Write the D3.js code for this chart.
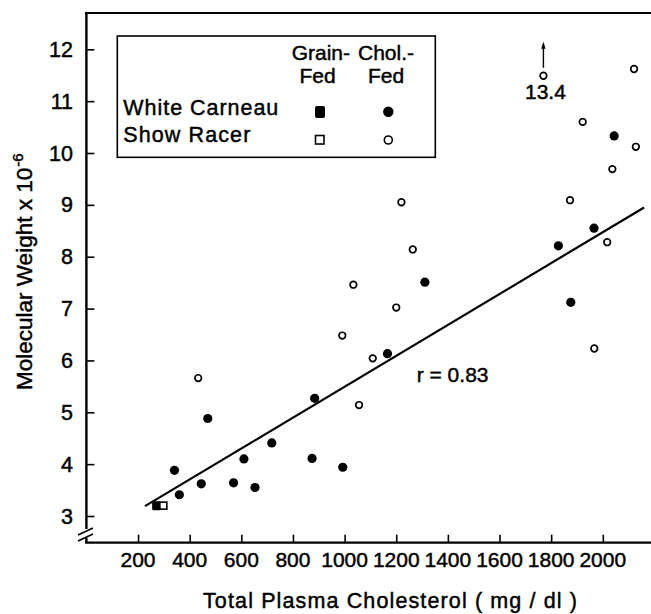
<!DOCTYPE html>
<html>
<head>
<meta charset="utf-8">
<script src="https://cdn.jsdelivr.net/npm/d3@7"></script>
<style>
	body { margin: 0; background: #fff; }
	svg { display: block; }
	text { font-family: "Liberation Sans", Arial, Helvetica, sans-serif; fill: #000; stroke: #000; stroke-width: 0.45px; }
</style>
</head>
<body>
<div id="chart"></div>
<script>

// White Carneau, cholesterol-fed (filled circles)
var wcCholX = [341, 360, 445, 470, 570, 610, 653, 718, 874, 884, 993, 1166, 1311, 1828, 1876, 1966, 2044];
var wcCholY = [3.88, 3.41, 3.62, 4.88, 3.64, 4.10, 3.55, 4.41, 4.11, 5.27, 3.94, 6.13, 7.51, 8.21, 7.12, 8.55, 10.33];

// Show Racer, cholesterol-fed (open circles)
var srCholX = [433, 991, 1034, 1056, 1109, 1200, 1220, 1264, 1770, 1873, 1922, 1967, 2017, 2037, 2121, 2128];
var srCholY = [5.66, 6.48, 7.46, 5.14, 6.04, 7.02, 9.05, 8.14, 11.49, 9.09, 10.60, 6.23, 8.28, 9.69, 11.62, 10.12];

// grain-fed birds (squares)
var wcGrainX = [272];
var wcGrainY = [3.2];
var srGrainX = [298];
var srGrainY = [3.2];

// point that is off the scale, drawn at the top with an arrow
var offScaleX = [1770];
var offScaleY = [11.49];
var offScaleLabel = ["13.4"];

// regression line end points
var fitX = [227, 2160];
var fitY = [3.19, 8.95];
var fitLabel = "r = 0.83";

var xTicks = [200, 400, 600, 800, 1000, 1200, 1400, 1600, 1800, 2000];
var yTicks = [3, 4, 5, 6, 7, 8, 9, 10, 11, 12];

var width = 651, height = 614;

var svg = d3.select("#chart")
	.append("svg")
	.attr("width", width)
	.attr("height", height)

var xScale = d3.scaleLinear().domain([0, 2000]).range([86.4, 602.8]);
var yScale = d3.scaleLinear().domain([3, 12]).range([516, 49.3]);

var axisY = 542.7;   // where the x axis sits
var topY = 13;

// frame: top line, left axis with break, bottom axis
svg.append("line")
	.attr("x1", 85).attr("x2", width)
	.attr("y1", topY).attr("y2", topY)
	.attr("stroke", "#000").attr("stroke-width", 2)

svg.append("line")
	.attr("x1", xScale(0)).attr("x2", xScale(0))
	.attr("y1", topY - 1).attr("y2", 529)
	.attr("stroke", "#000").attr("stroke-width", 2.4)

svg.append("line")
	.attr("x1", xScale(0)).attr("x2", xScale(0))
	.attr("y1", 538).attr("y2", axisY)
	.attr("stroke", "#000").attr("stroke-width", 2.4)

// break marks
svg.selectAll("line.brk")
	.data([0, 6])
	.enter()
	.append("line")
	.attr("class", "brk")
	.attr("x1", 78).attr("x2", 93)
	.attr("y1", d => 535 + d).attr("y2", d => 528 + d)
	.attr("stroke", "#000").attr("stroke-width", 1.6)

// x axis, ticks pointing inward
svg.append("g")
	.attr("transform", "translate(0," + axisY + ")")
	.call(d3.axisTop(xScale).tickValues(xTicks).tickSize(8).tickSizeOuter(0).tickFormat(""))
	.call(g => g.select(".domain").attr("d", "M85,0H" + width).attr("stroke-width", 2.2))
	.call(g => g.selectAll(".tick line").attr("stroke-width", 1.6))

svg.selectAll("text.xlab")
	.data(xTicks)
	.enter()
	.append("text")
	.attr("class", "xlab")
	.attr("x", d => xScale(d))
	.attr("y", axisY + 24)
	.attr("text-anchor", "middle")
	.attr("font-size", 21)
	.text(d => d)

// y axis ticks pointing inward
svg.append("g")
	.attr("transform", "translate(" + xScale(0) + ",0)")
	.call(d3.axisRight(yScale).tickValues(yTicks).tickSize(8).tickSizeOuter(0).tickFormat(""))
	.call(g => g.select(".domain").remove())
	.call(g => g.selectAll(".tick line").attr("stroke-width", 1.6))

svg.selectAll("text.ylab")
	.data(yTicks)
	.enter()
	.append("text")
	.attr("class", "ylab")
	.attr("x", 73)
	.attr("y", d => yScale(d) + 7.5)
	.attr("text-anchor", "end")
	.attr("font-size", 21.5)
	.text(d => d)

// axis titles
svg.append("text")
	.attr("x", 203)
	.attr("y", 608)
	.attr("font-size", 21.5)
	.attr("textLength", 374)
	.attr("lengthAdjust", "spacing")
	.text("Total Plasma Cholesterol ( mg / dl )")

var yTitle = svg.append("text")
	.attr("transform", "translate(31.5,390) rotate(-90)")
	.attr("font-size", 22.5)

yTitle.append("tspan").text("Molecular Weight x 10")
yTitle.append("tspan")
	.attr("font-size", 15)
	.attr("dy", -9)
	.attr("dx", 1)
	.text("-6")

// regression line
var fit = fitX.map((d, i) => [d, fitY[i]]);

svg.append("path")
	.datum(fit)
	.attr("d", d3.line().x(d => xScale(d[0])).y(d => yScale(d[1])))
	.attr("stroke", "#000")
	.attr("stroke-width", 2.2)
	.attr("fill", "none")

svg.append("text")
	.attr("x", 416.7)
	.attr("y", 382)
	.attr("font-size", 21)
	.text(fitLabel)

// grain-fed squares
var sq = 9;
svg.selectAll("rect.wcg")
	.data(wcGrainX.map((d, i) => [d, wcGrainY[i]]))
	.enter()
	.append("rect")
	.attr("class", "wcg")
	.attr("x", d => xScale(d[0]) - sq / 2)
	.attr("y", d => yScale(d[1]) - sq / 2)
	.attr("width", sq).attr("height", sq)
	.attr("rx", 1.5)
	.attr("fill", "#000")

svg.selectAll("rect.srg")
	.data(srGrainX.map((d, i) => [d, srGrainY[i]]))
	.enter()
	.append("rect")
	.attr("class", "srg")
	.attr("x", d => xScale(d[0]) - 3.5)
	.attr("y", d => yScale(d[1]) - 3.5)
	.attr("width", 7).attr("height", 7)
	.attr("fill", "#fff")
	.attr("stroke", "#000")
	.attr("stroke-width", 1.6)

// cholesterol-fed circles
svg.selectAll("circle.wc")
	.data(wcCholX.map((d, i) => [d, wcCholY[i]]))
	.enter()
	.append("circle")
	.attr("class", "wc")
	.attr("r", 4.6)
	.attr("cx", d => xScale(d[0]))
	.attr("cy", d => yScale(d[1]))
	.attr("fill", "#000")

svg.selectAll("circle.sr")
	.data(srCholX.map((d, i) => [d, srCholY[i]]))
	.enter()
	.append("circle")
	.attr("class", "sr")
	.attr("r", 3.3)
	.attr("cx", d => xScale(d[0]))
	.attr("cy", d => yScale(d[1]))
	.attr("fill", "#fff")
	.attr("stroke", "#000")
	.attr("stroke-width", 1.7)

// off-scale point: arrow and real value
offScaleX.forEach(function(v, i) {
	var px = xScale(v), py = yScale(offScaleY[i]);
	svg.append("line")
		.attr("x1", px).attr("x2", px)
		.attr("y1", py - 8).attr("y2", py - 31)
		.attr("stroke", "#000").attr("stroke-width", 1.4)
	svg.append("path")
		.attr("d", "M" + (px - 2.2) + "," + (py - 27) + "L" + px + "," + (py - 34) + "L" + (px + 2.2) + "," + (py - 27) + "Z")
		.attr("fill", "#000")
	svg.append("text")
		.attr("x", px + 2)
		.attr("y", py + 23)
		.attr("text-anchor", "middle")
		.attr("font-size", 21)
		.text(offScaleLabel[i])
});

// legend box
var legend = svg.append("g")

legend.append("rect")
	.attr("x", 117.3).attr("y", 36)
	.attr("width", 318).attr("height", 121.3)
	.attr("fill", "#fff")
	.attr("stroke", "#000")
	.attr("stroke-width", 1.6)

legend.append("text").attr("x", 291.7).attr("y", 60).attr("font-size", 21).text("Grain-")
legend.append("text").attr("x", 358).attr("y", 60).attr("font-size", 21).text("Chol.-")
legend.append("text").attr("x", 317.5).attr("y", 83).attr("text-anchor", "middle").attr("font-size", 21).text("Fed")
legend.append("text").attr("x", 386).attr("y", 83).attr("text-anchor", "middle").attr("font-size", 21).text("Fed")

legend.append("text").attr("x", 123.3).attr("y", 115).attr("font-size", 21.5)
	.attr("textLength", 155).attr("lengthAdjust", "spacing").text("White Carneau")
legend.append("text").attr("x", 123.3).attr("y", 142).attr("font-size", 21.5)
	.attr("textLength", 127).attr("lengthAdjust", "spacing").text("Show Racer")

legend.append("rect")
	.attr("x", 315).attr("y", 106)
	.attr("width", 10).attr("height", 12)
	.attr("rx", 2)
	.attr("fill", "#000")
legend.append("rect")
	.attr("x", 315.5).attr("y", 135.5)
	.attr("width", 8.5).attr("height", 8.5)
	.attr("fill", "#fff")
	.attr("stroke", "#000")
	.attr("stroke-width", 1.6)
legend.append("circle")
	.attr("cx", 388.3).attr("cy", 111.7).attr("r", 5.2)
	.attr("fill", "#000")
legend.append("circle")
	.attr("cx", 388.3).attr("cy", 140).attr("r", 4)
	.attr("fill", "#fff")
	.attr("stroke", "#000")
	.attr("stroke-width", 1.6)

</script>
</body>
</html>
